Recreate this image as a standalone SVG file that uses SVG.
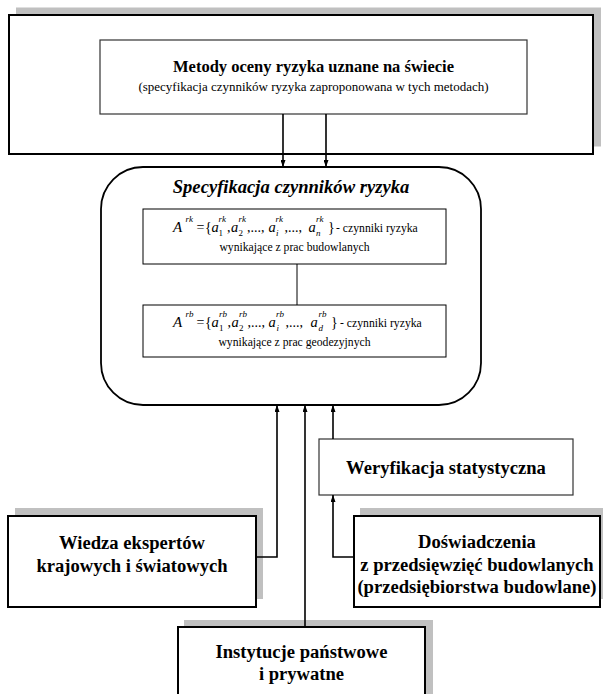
<svg xmlns="http://www.w3.org/2000/svg" width="603" height="694" viewBox="0 0 603 694">
<defs>
<marker id="arr" markerUnits="userSpaceOnUse" markerWidth="7" markerHeight="5" refX="7" refY="2.5" orient="auto" viewBox="0 0 7 5">
<path d="M0,0 L7,2.5 L0,5 z" fill="#000"/>
</marker>
<style>
.shadow{fill:#c0c0c0;stroke:none}
.thick{fill:#fff;stroke:#000;stroke-width:2}
.thin{fill:#fff;stroke:#333;stroke-width:1.2}
.bold{font-family:"Liberation Serif","Times New Roman",serif;font-weight:bold;font-size:18.6px;text-anchor:middle;fill:#000}
.reg{font-family:"Liberation Serif","Times New Roman",serif;fill:#000}
.it{font-family:"Liberation Serif","Times New Roman",serif;font-style:italic;fill:#000}
.conn{fill:none;stroke:#000;stroke-width:1.6}
</style>
</defs>

<g id="metody-outer">
<rect class="shadow" x="16" y="7.5" width="585" height="139"/>
<rect class="thick" x="9" y="15" width="584" height="139"/>
</g>

<g id="metody">
<rect class="thin" x="100" y="40" width="427" height="74"/>
<text class="reg" x="313.5" y="72" text-anchor="middle" font-weight="bold" font-size="16.5">Metody oceny ryzyka uznane na świecie</text>
<text class="reg" x="313.5" y="91" text-anchor="middle" font-size="13">(specyfikacja czynników ryzyka zaproponowana w tych metodach)</text>
</g>

<g id="specyfikacja">
<rect x="101" y="167" width="380" height="238" rx="42" ry="42" fill="#fff" stroke="#000" stroke-width="1.8"/>
<text class="reg" x="291" y="192.5" text-anchor="middle" font-weight="bold" font-style="italic" font-size="18.6">Specyfikacja czynników ryzyka</text>
</g>

<g id="ark">
<rect x="143" y="209" width="303" height="55" fill="#fff" stroke="#000" stroke-width="1"/>
<text class="it" font-size="15" x="173" y="232">A</text>
<text class="it" font-size="9" y="222"><tspan x="185.5">rk</tspan><tspan x="218.5">rk</tspan><tspan x="238.5">rk</tspan><tspan x="275.5">rk</tspan><tspan x="316">rk</tspan></text>
<text class="reg" font-size="14" y="232"><tspan x="196.5">=</tspan><tspan x="205">{</tspan><tspan x="227">,</tspan><tspan x="247">,...,</tspan><tspan x="284.5">,...,</tspan><tspan x="328">}</tspan></text>
<text class="it" font-size="14.5" y="232"><tspan x="211.5">a</tspan><tspan x="231">a</tspan><tspan x="268.5">a</tspan><tspan x="308.5">a</tspan></text>
<text class="reg" font-size="9" y="236"><tspan x="218.5">1</tspan><tspan x="238.5">2</tspan></text>
<text class="it" font-size="9" y="236"><tspan x="276">i</tspan><tspan x="316">n</tspan></text>
<text class="reg" font-size="11.7" x="336" y="232">- czynniki ryzyka</text>
<text class="reg" font-size="11.7" x="294.5" y="251" text-anchor="middle">wynikające z prac budowlanych</text>
</g>

<g id="arb">
<rect x="143" y="305" width="303" height="52" fill="#fff" stroke="#000" stroke-width="1"/>
<text class="it" font-size="15" x="173" y="327">A</text>
<text class="it" font-size="9" y="317"><tspan x="185.5">rb</tspan><tspan x="219">rb</tspan><tspan x="239">rb</tspan><tspan x="276">rb</tspan><tspan x="318.5">rb</tspan></text>
<text class="reg" font-size="14" y="327"><tspan x="196.5">=</tspan><tspan x="205">{</tspan><tspan x="227.5">,</tspan><tspan x="247.5">,...,</tspan><tspan x="285.5">,...,</tspan><tspan x="331">}</tspan></text>
<text class="it" font-size="14.5" y="327"><tspan x="211.5">a</tspan><tspan x="231.5">a</tspan><tspan x="268.5">a</tspan><tspan x="310.5">a</tspan></text>
<text class="reg" font-size="9" y="331"><tspan x="219">1</tspan><tspan x="239">2</tspan></text>
<text class="it" font-size="9" y="331"><tspan x="276.5">i</tspan><tspan x="318.5">d</tspan></text>
<text class="reg" font-size="11.7" x="340" y="327">- czynniki ryzyka</text>
<text class="reg" font-size="11.7" x="294.5" y="346" text-anchor="middle">wynikające z prac geodezyjnych</text>
</g>

<g id="weryfikacja">
<rect class="thin" x="319" y="439" width="254" height="56"/>
<text class="bold" x="446" y="474">Weryfikacja statystyczna</text>
</g>

<g id="wiedza">
<rect class="shadow" x="15" y="508" width="248" height="91"/>
<rect class="thick" x="8" y="516" width="248" height="91"/>
<text class="bold" x="132" y="549">Wiedza ekspertów</text>
<text class="bold" x="132" y="572">krajowych i światowych</text>
</g>

<g id="doswiadczenia">
<rect class="shadow" x="360" y="508" width="250" height="91"/>
<rect class="thick" x="354" y="516" width="246" height="91"/>
<text class="bold" x="477" y="548">Doświadczenia</text>
<text class="bold" x="477" y="570.5">z przedsięwzięć budowlanych</text>
<text class="bold" x="477" y="593">(przedsiębiorstwa budowlane)</text>
</g>

<g id="instytucje">
<rect class="shadow" x="184" y="620" width="249" height="90"/>
<rect class="thick" x="178" y="627" width="247" height="90"/>
<text class="bold" x="301.5" y="658">Instytucje państwowe</text>
<text class="bold" x="301.5" y="680">i prywatne</text>
</g>

<g id="connectors">
<line class="conn" x1="283" y1="114" x2="283" y2="167" marker-end="url(#arr)"/>
<line class="conn" x1="326" y1="114" x2="326" y2="167" marker-end="url(#arr)"/>
<line x1="297" y1="264" x2="297" y2="305" stroke="#000" stroke-width="1"/>
<polyline class="conn" points="256,557 277,557 277,405" marker-end="url(#arr)"/>
<line class="conn" x1="305" y1="627" x2="305" y2="405" marker-end="url(#arr)"/>
<line class="conn" x1="333" y1="439" x2="333" y2="405" marker-end="url(#arr)"/>
<polyline class="conn" points="354,557 333,557 333,495" marker-end="url(#arr)"/>
</g>
</svg>
